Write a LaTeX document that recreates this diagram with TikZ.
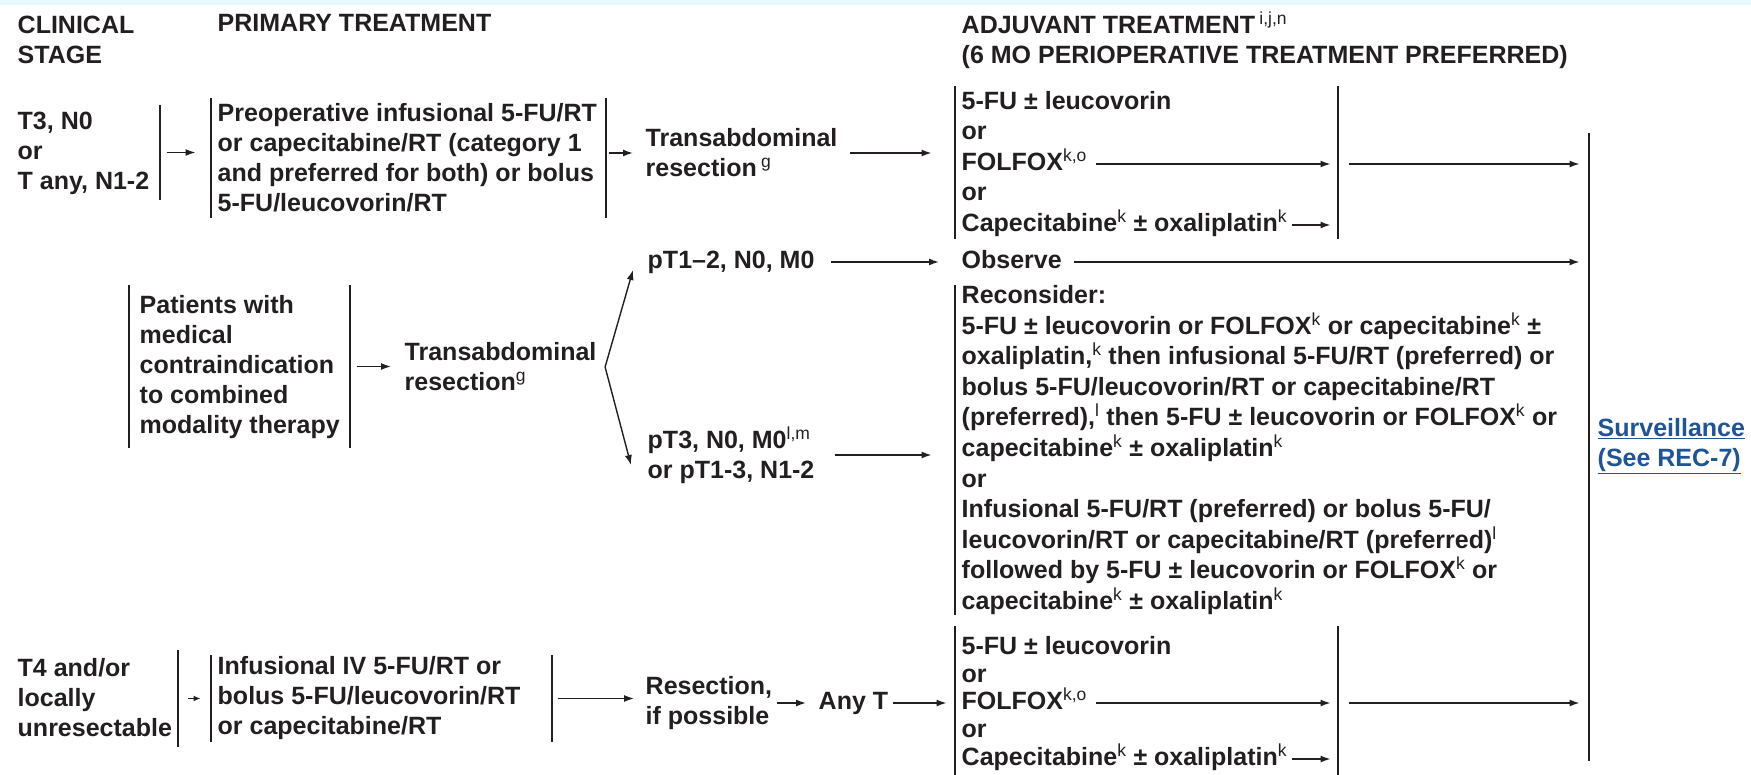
\documentclass[tikz,border=0pt]{standalone}
\usepackage{fontspec}
\setmainfont{Liberation Sans}
\usetikzlibrary{positioning,arrows.meta}
\definecolor{ink}{RGB}{35,31,32}
\definecolor{link}{RGB}{30,85,150}
\newcommand{\fnm}[1]{\textsuperscript{\mdseries#1}}

\begin{document}
\begin{tikzpicture}[x=1pt,y=-1pt,line width=1.4pt,
  every node/.style={font=\fontsize{25}{30}\selectfont\bfseries,text=ink,inner sep=0pt},
  ln/.style={anchor=west,text height=18pt,text depth=5pt},
  blk/.style={anchor=west,align=left},
  vbar/.style={fill=ink,minimum width=1.6pt,minimum height=#1},
  arr/.style={-{Latex[length=10pt,width=7pt]},draw=ink,shorten >=6pt}]
\useasboundingbox (0,0) rectangle (1751,775);
\fill[cyan!10] (0,0) rectangle (1751,5);

\node[blk] (hstage) at (17,40) {CLINICAL\\STAGE};
\node[ln] (hprim) at (217,25) {PRIMARY TREATMENT};
\node[blk] (hadj) at (961,40) {ADJUVANT TREATMENT\,\fnm{i,j,n}\\(6 MO PERIOPERATIVE TREATMENT PREFERRED)};

\node[blk] (stage1) at (17,153) {T3, N0\\or\\T any, N1-2};
\node[vbar=95pt] (s1r) at (160,152.5) {};
\node[vbar=120pt] (p1l) at (211,158) {};
\node[vbar=120pt] (p1r) at (606,158) {};
\node[blk] (prim1) at (217,158) {Preoperative infusional 5-FU/RT\\or capecitabine/RT (category 1\\and preferred for both) or bolus\\5-FU/leucovorin/RT};
\node[blk] (trans1) at (645,153) {Transabdominal\\resection\,\fnm{g}};
\node[vbar=153pt] (g1l) at (955,162.5) {};
\node[vbar=153pt] (g1r) at (1338,162.5) {};
\node[vbar=628pt] (sv) at (1589,447) {};

\node[vbar=163pt] (pl) at (129,366.5) {};
\node[vbar=163pt] (pr) at (350,366.5) {};
\node[blk] (pat) at (139,367) {Patients with\\medical\\contraindication\\to combined\\modality therapy};
\node[blk] (trans2) at (404,367) {Transabdominal\\resection\fnm{g}};
\coordinate[right=8pt of trans2] (fk);
\node[ln] (pt12) at (647,262) {pT1--2, N0, M0};
\node[blk] (pt3) at (647,455) {pT3, N0, M0\fnm{l,m}\\or pT1-3, N1-2};
\node[ln] (obs) at (961,262) {Observe};
\node[vbar=330pt] (rl) at (955,450) {};
\node[blk,font=\fontsize{25}{30.6}\selectfont\bfseries] (rec) at (961,450) {Reconsider:\\5-FU ± leucovorin or FOLFOX\fnm{k} or capecitabine\fnm{k} ±\\oxaliplatin,\fnm{k} then infusional 5-FU/RT (preferred) or\\bolus 5-FU/leucovorin/RT or capecitabine/RT\\(preferred),\fnm{l} then 5-FU ± leucovorin or FOLFOX\fnm{k} or\\capecitabine\fnm{k} ± oxaliplatin\fnm{k}\\or\\Infusional 5-FU/RT (preferred) or bolus 5-FU/\\leucovorin/RT or capecitabine/RT (preferred)\fnm{l}\\followed by 5-FU ± leucovorin or FOLFOX\fnm{k} or\\capecitabine\fnm{k} ± oxaliplatin\fnm{k}};

\node[blk] (stage3) at (17,698) {T4 and/or\\locally\\unresectable};
\node[vbar=97pt] (s3r) at (178,698.5) {};
\node[vbar=87pt] (q3l) at (211,698.5) {};
\node[vbar=87pt] (q3r) at (552,698.5) {};
\node[blk] (prim3) at (217,698) {Infusional IV 5-FU/RT or\\bolus 5-FU/leucovorin/RT\\or capecitabine/RT};
\node[blk] (res) at (645,703) {Resection,\\if possible};
\node[ln] (anyt) at (818,703) {Any T};
\node[vbar=149pt] (bl) at (955,700.5) {};
\node[vbar=149pt] (br) at (1338,700.5) {};

\foreach \n/\y/\z/\t in {1/103/648/{5-FU ± leucovorin},2/133.5/676/or,3/164/703/{FOLFOX\fnm{k,o}},4/194.5/731/or,5/225/759/{Capecitabine\fnm{k} ± oxaliplatin\fnm{k}}}
{\node[ln] (ta\n) at (961,\y) {\t};
 \node[ln] (ba\n) at (961,\z) {\t};}

\node[blk,text=link] (surv) at (1597,446) {\underline{Surveillance}\\\underline{(See REC-7)}};

\draw[arr,shorten <=5pt,shorten >=14pt] (s1r.east) -- (s1r.east -| p1l.west);
\draw[arr,shorten <=1pt,shorten >=12pt] (p1r.east |- trans1.west) -- (trans1.west);
\draw[arr,shorten <=12pt,shorten >=22pt] (trans1.east) -- (trans1.east -| g1l.west);
\draw[arr,shorten <=8pt] (ta3.east) -- (ta3.east -| g1r.west);
\draw[arr,shorten <=4pt] (ta5.east) -- (ta5.east -| g1r.west);
\draw[arr,shorten <=9pt,shorten >=8pt] (g1r.east |- ta3.east) -- (ta3.east -| sv.west);

\draw[arr,shorten <=5pt,shorten >=13pt] (pr.east) -- (pr.east -| trans2.west);
\draw[arr,shorten >=0pt] (fk) -- ([xshift=-14pt,yshift=-8pt]pt12.west);
\draw[arr,shorten >=0pt] (fk) -- ([xshift=-16pt,yshift=-10pt]pt3.west);
\draw[arr,shorten <=16pt,shorten >=22pt] (pt12.east) -- (obs.west);
\draw[arr,shorten <=12pt,shorten >=8pt] (obs.east) -- (obs.east -| sv.west);
\draw[arr,shorten <=20pt,shorten >=22pt] (pt3.east) -- (pt3.east -| rl.west);

\draw[-{Latex[length=7pt,width=6pt]},draw=ink,shorten <=8pt,shorten >=9pt] (s3r.east) -- (s3r.east -| q3l.west);
\draw[arr,shorten <=4pt,shorten >=11pt] (q3r.east) -- (q3r.east -| res.west);
\draw[arr,shorten <=4pt,shorten >=12pt] (res.east) -- (anyt.west);
\draw[arr,shorten <=4pt,shorten >=7pt] (anyt.east) -- (anyt.east -| bl.west);
\draw[arr,shorten <=8pt] (ba3.east) -- (ba3.east -| br.west);
\draw[arr,shorten <=4pt] (ba5.east) -- (ba5.east -| br.west);
\draw[arr,shorten <=9pt,shorten >=8pt] (br.east |- ba3.east) -- (ba3.east -| sv.west);
\end{tikzpicture}
\end{document}
